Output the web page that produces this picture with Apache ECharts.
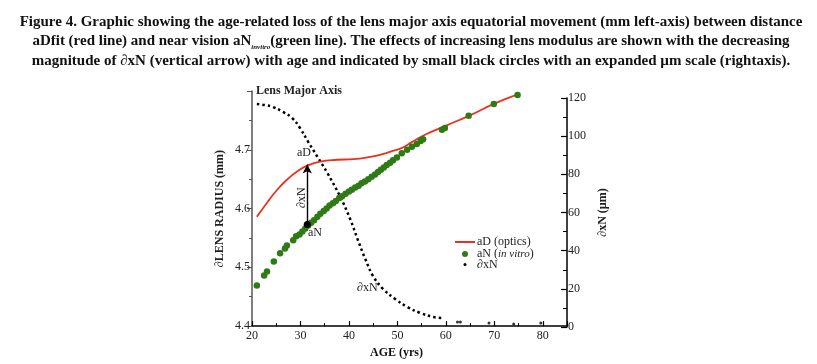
<!DOCTYPE html>
<html><head><meta charset="utf-8">
<script src="https://cdn.jsdelivr.net/npm/echarts@6/dist/echarts.min.js"></script>
<style>html,body{margin:0;padding:0;background:#fff}#c{width:817px;height:364px}</style>
</head><body><div id="c"></div>
<script>
// ---- data ----
var xTicks = [20, 30, 40, 50, 60, 70, 80];
var leftTicks = [4.4, 4.5, 4.6, 4.7];
var rightTicks = [0, 20, 40, 60, 80, 100, 120];

// aD (optics) red fitted line: [age, lens radius mm]
var aD = [[21.0,4.586],[23.1,4.610],[25.2,4.632],[27.2,4.649],[29.3,4.663],[31.4,4.673],[34.1,4.680],[37.6,4.683],[40.9,4.684],[44.4,4.688],[47.1,4.693],[48.6,4.697],[50.6,4.702],[53.0,4.713],[55.8,4.726],[60.3,4.742],[65.1,4.759],[69.9,4.778],[75.1,4.795]];

// aN (in vitro) green dots: [age, lens radius mm]
var aN = [[21.0,4.469],[22.5,4.486],[23.1,4.493],[24.5,4.510],[25.8,4.524],[26.8,4.532],[27.2,4.537],[28.5,4.546],[29.1,4.553],[29.8,4.556],[30.4,4.561],[31.0,4.566],[31.6,4.571],[32.2,4.576],[32.8,4.580],[33.5,4.586],[34.1,4.591],[34.8,4.596],[35.4,4.600],[36.0,4.605],[36.7,4.609],[37.3,4.613],[38.0,4.618],[38.6,4.621],[39.3,4.625],[40.0,4.629],[40.6,4.632],[41.3,4.636],[42.0,4.639],[42.6,4.643],[43.3,4.646],[44.0,4.650],[44.7,4.654],[45.4,4.658],[46.0,4.662],[46.6,4.666],[47.2,4.670],[47.8,4.674],[48.5,4.678],[49.1,4.682],[49.9,4.687],[50.9,4.694],[52.0,4.700],[53.0,4.705],[54.0,4.710],[54.8,4.715],[55.3,4.718],[59.2,4.734],[59.8,4.737],[64.7,4.758],[69.9,4.778],[74.8,4.793]];

// dxN (um, right axis): dotted curve and sparse tail dots
var dxN = [[21.0,116.8],[22.7,116.3],[24.3,115.3],[26.4,112.7],[28.3,109.5],[29.9,104.3],[31.6,97.0],[33.5,89.2],[35.5,80.9],[38.2,68.3],[40.3,56.3],[41.8,45.9],[43.4,35.5],[45.0,26.6],[47.1,19.8],[49.6,14.6],[52.1,10.4],[54.8,7.3],[57.5,5.2],[59.3,4.7]];
var dxNTail = [[62.4,2.6],[63.0,2.6],[68.9,2.1],[74.0,1.6],[79.6,2.1]];

// vertical arrow dxN at age: [age, aN value, aD value]
var arrow = [31.4, 4.573, 4.675];

var FONT = 'Liberation Serif';
var chart = echarts.init(document.getElementById('c'));
var tickColor = '#222';
chart.setOption({
  animation: false,
  backgroundColor: '#fff',
  textStyle: {fontFamily: FONT},
  grid: [
    {left: 252, right: 250, top: 91, bottom: 37},
    {left: 252, right: 250, top: 98, bottom: 37}
  ],
  xAxis: [{
    gridIndex: 0, type: 'value', min: 20, max: 85, interval: 10,
    name: 'AGE (yrs)', nameLocation: 'middle', nameGap: 20,
    nameTextStyle: {fontFamily: FONT, fontWeight: 'bold', fontSize: 12, color: '#111', padding: [0, 26, 0, 0]},
    axisLine: {lineStyle: {color: '#000', width: 1.5}},
    axisTick: {inside: true, length: 5, lineStyle: {color: '#000', width: 1.2}},
    minorTick: {show: true, splitNumber: 2, length: 3, lineStyle: {color: '#000'}},
    splitLine: {show: false},
    axisLabel: {fontFamily: FONT, fontSize: 12, color: tickColor, margin: 4,
      formatter: function (v) { return xTicks.indexOf(v) >= 0 ? String(v) : ''; }}
  }, {
    gridIndex: 1, type: 'value', min: 20, max: 85, show: false
  }],
  yAxis: [{
    gridIndex: 0, type: 'value', min: 4.4, max: 4.8, interval: 0.1,
    name: '\u2202LENS RADIUS (mm)', nameLocation: 'middle', nameGap: 26, nameRotate: 90,
    nameTextStyle: {fontFamily: FONT, fontWeight: 'bold', fontSize: 12, color: '#222'},
    axisLine: {show: true, lineStyle: {color: '#555', width: 1.5}},
    axisTick: {show: true, inside: false, length: 5, lineStyle: {color: '#555'}},
    minorTick: {show: true, splitNumber: 2, length: 3, lineStyle: {color: '#555'}},
    splitLine: {show: false},
    axisLabel: {fontFamily: FONT, fontSize: 12, color: tickColor, margin: 2,
      formatter: function (v) {
        for (var i = 0; i < leftTicks.length; i++) if (Math.abs(leftTicks[i] - v) < 1e-6) return leftTicks[i].toFixed(1);
        return '';
      }}
  }, {
    gridIndex: 1, type: 'value', min: 0, max: 120, interval: 20, position: 'right',
    name: '\u2202xN (\u00b5m)', nameLocation: 'middle', nameGap: 30, nameRotate: 90,
    nameTextStyle: {fontFamily: FONT, fontWeight: 'bold', fontSize: 12, color: '#222'},
    axisLine: {show: true, lineStyle: {color: '#000', width: 1.5}},
    axisTick: {show: true, inside: true, length: 6, lineStyle: {color: '#000', width: 1.2}},
    minorTick: {show: true, splitNumber: 2, length: 4, lineStyle: {color: '#000'}},
    splitLine: {show: false},
    axisLabel: {fontFamily: FONT, fontSize: 12, color: tickColor, margin: 1,
      formatter: function (v) { return rightTicks.indexOf(v) >= 0 ? String(v) : ''; }}
  }],
  legend: [{
    left: 455, top: 236, padding: 0, itemWidth: 20, itemHeight: 2, itemGap: 0, orient: 'vertical',
    data: [{name: 'aD (optics)', icon: 'rect'}],
    textStyle: {fontFamily: FONT, fontSize: 12, color: '#222', padding: [0, 0, 0, -3]}
  }, {
    left: 462, top: 248, padding: 0, itemWidth: 6, itemHeight: 6, orient: 'vertical',
    data: [{name: 'aN (in vitro)', icon: 'circle'}],
    formatter: function () { return '{n|aN (}{i|in vitro}{n|)}'; },
    textStyle: {fontFamily: FONT, fontSize: 12, color: '#222', padding: [0, 0, 0, 4],
      rich: {n: {fontFamily: FONT, fontSize: 12, color: '#222'}, i: {fontFamily: FONT, fontSize: 11, fontStyle: 'italic', color: '#222'}}}
  }, {
    left: 463.5, top: 258.5, padding: 0, itemWidth: 3, itemHeight: 3, orient: 'vertical',
    data: [{name: '\u2202xN', icon: 'circle'}],
    textStyle: {fontFamily: FONT, fontSize: 12, color: '#222', padding: [0, 0, 0, 5.5]}
  }],
  graphic: [{
    type: 'text', x: 411, y: 12,
    style: {
      align: 'center',
      text: '{b|Figure 4. Graphic showing the age-related loss of the lens major axis equatorial movement (mm left-axis) between distance}\n' +
            '{b|aDfit (red line) and near vision aN}{s|invitro}{b|(green line). The effects of increasing lens modulus are shown with the decreasing}\n' +
            '{b|magnitude of \u2202xN (vertical arrow) with age and indicated by small black circles with an expanded \u00b5m scale (rightaxis).}',
      rich: {
        b: {fontFamily: FONT, fontWeight: 'bold', fontSize: 15, lineHeight: 19.5, fill: '#111'},
        s: {fontFamily: FONT, fontWeight: 'bold', fontStyle: 'italic', fontSize: 7, lineHeight: 19.5, padding: [11, 0, 0, 0], fill: '#111'}
      }
    }
  }, {
    type: 'text', x: 256, y: 85,
    style: {text: 'Lens Major Axis', font: 'bold 12px "Liberation Serif"', fill: '#222'}
  }, {
    type: 'text', x: 297, y: 147,
    style: {text: 'aD', font: '12px "Liberation Serif"', fill: '#222'}
  }, {
    type: 'text', x: 308, y: 227,
    style: {text: 'aN', font: '12px "Liberation Serif"', fill: '#222'}
  }, {
    type: 'text', x: 296, y: 208, rotation: Math.PI / 2,
    style: {text: '\u2202xN', font: '12px "Liberation Serif"', fill: '#222'}
  }, {
    type: 'text', x: 357, y: 282,
    style: {text: '\u2202xN', font: '12px "Liberation Serif"', fill: '#222'}
  }],
  series: [{
    name: '\u2202xN', type: 'line', xAxisIndex: 1, yAxisIndex: 1, data: dxN,
    smooth: 0.4, showSymbol: false, symbol: 'circle', symbolSize: 3, z: 3,
    itemStyle: {color: '#000'},
    lineStyle: {color: '#000', width: 2.5, type: [2.5, 3]}
  }, {
    name: '\u2202xN', type: 'scatter', xAxisIndex: 1, yAxisIndex: 1, data: dxNTail,
    symbol: 'circle', symbolSize: 3, itemStyle: {color: '#000'}
  }, {
    name: 'aD (optics)', type: 'line', xAxisIndex: 0, yAxisIndex: 0, data: aD,
    smooth: 0.5, showSymbol: false, symbol: 'none', z: 4,
    itemStyle: {color: '#e8321f'},
    lineStyle: {color: '#e8321f', width: 1.8}
  }, {
    name: 'aN (in vitro)', type: 'scatter', xAxisIndex: 0, yAxisIndex: 0, data: aN,
    symbol: 'circle', symbolSize: 6.5, z: 5,
    itemStyle: {color: '#2e7b16', opacity: 1},
    markLine: {
      silent: true, animation: false, z: 6,
      label: {show: false},
      lineStyle: {color: '#000', width: 1.4, type: 'solid'},
      data: [[
        {coord: [arrow[0], arrow[1]], symbol: 'circle', symbolSize: 7},
        {coord: [arrow[0], arrow[2]], symbol: 'arrow', symbolSize: [7, 9]}
      ]]
    }
  }]
});
</script></body></html>
